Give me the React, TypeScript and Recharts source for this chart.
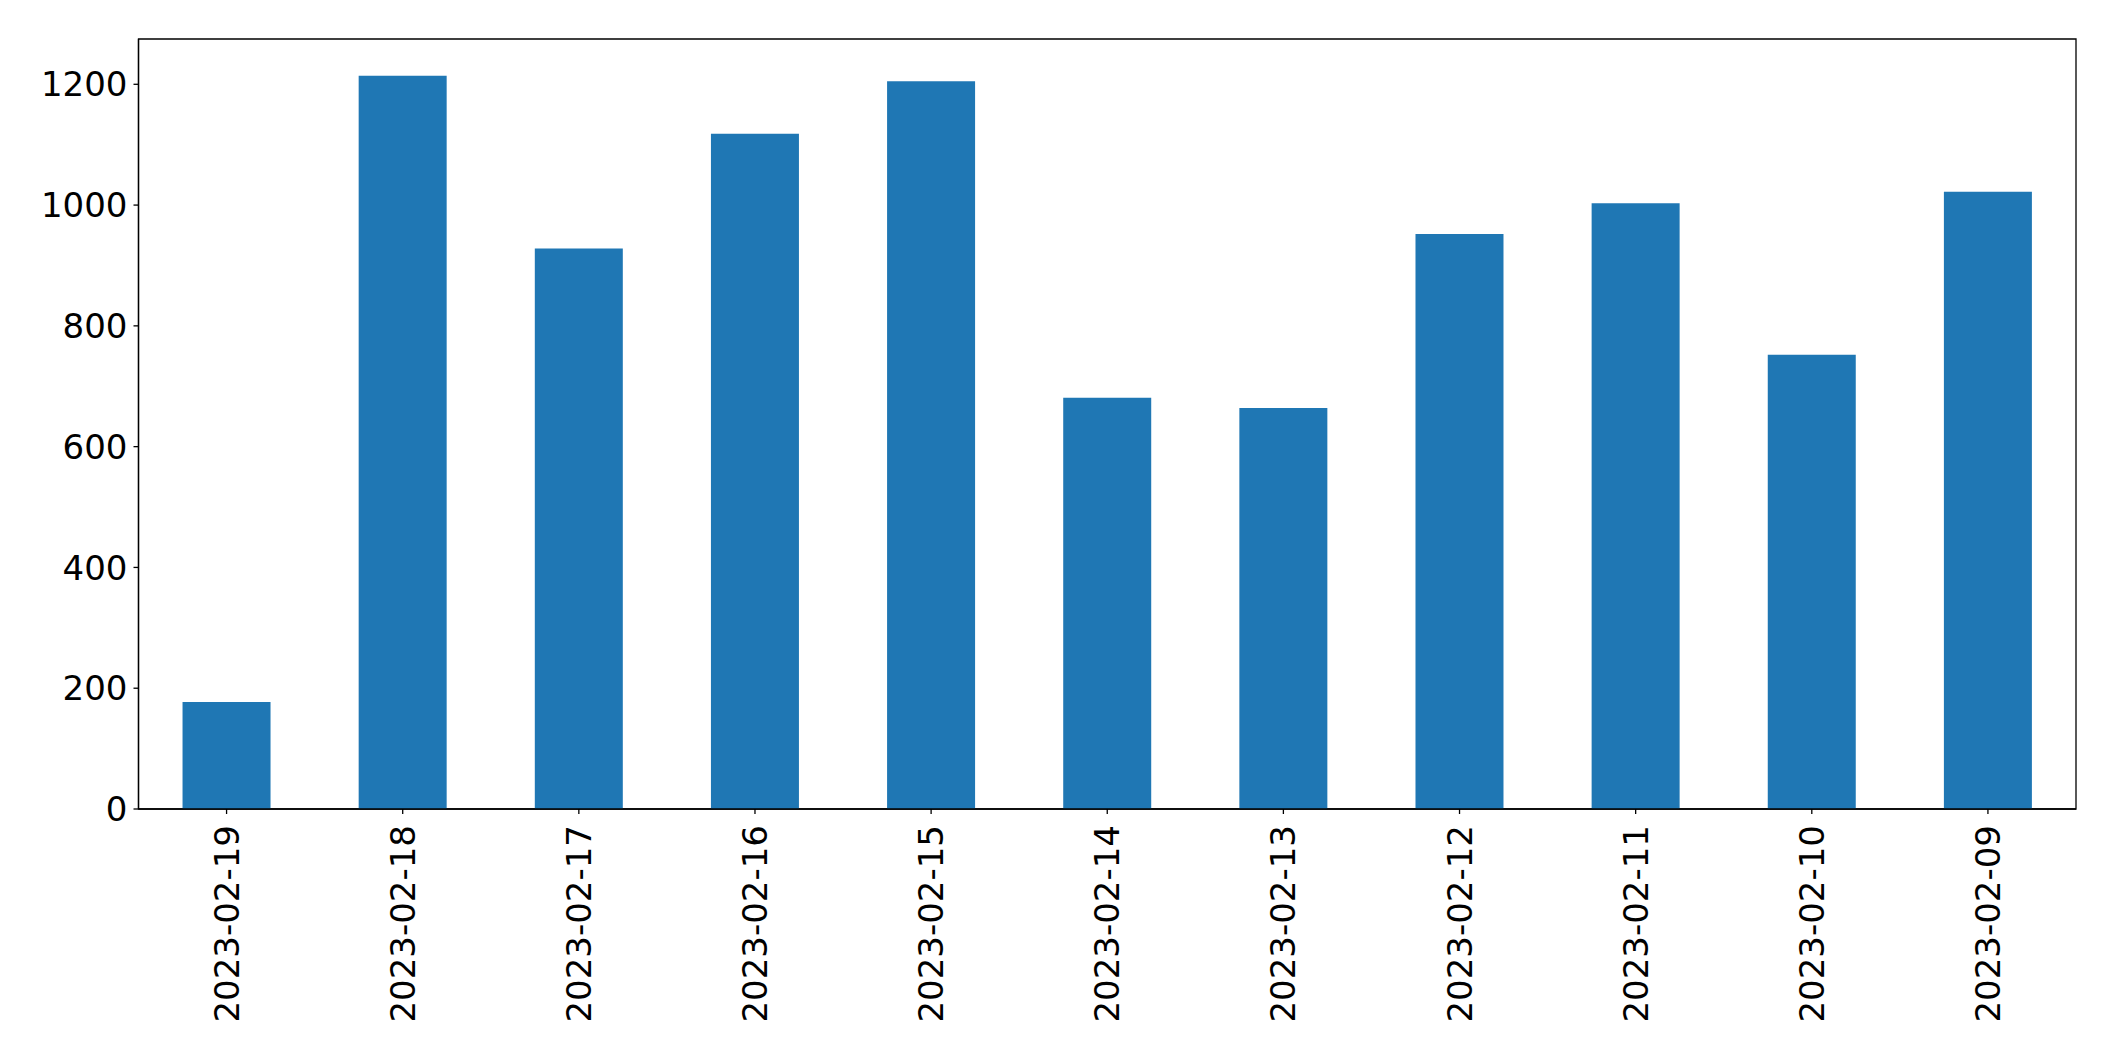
import React from 'react';
import { BarChart, Bar, XAxis, YAxis, ReferenceArea } from 'recharts';

const dates = [
  '2023-02-19', '2023-02-18', '2023-02-17', '2023-02-16', '2023-02-15', '2023-02-14',
  '2023-02-13', '2023-02-12', '2023-02-11', '2023-02-10', '2023-02-09',
];
const counts = [177, 1214, 928, 1118, 1205, 681, 664, 952, 1003, 752, 1022];
const yTicks = [0, 200, 400, 600, 800, 1000, 1200];
const yMax = 1275;

const FONT = '"DejaVu Sans", sans-serif';

const DateTick = (props: any) => {
  const { x, y, payload } = props;
  return (
    <text
      transform={`translate(${x},${y + 11}) rotate(-90)`}
      textAnchor="end"
      dominantBaseline="central"
      fontSize={34}
      fontFamily={FONT}
      fill="#000"
    >
      {payload.value}
    </text>
  );
};

const App: React.FC = () => {
  const data = dates.map((d, i) => ({ date: d, count: counts[i] }));

  return (
    <div style={{ position: 'absolute', left: 0, top: 0, background: '#fff' }}>
      <BarChart
        width={2115}
        height={1061}
        data={data}
        margin={{ top: 39, right: 39, left: 0, bottom: 0 }}
        barCategoryGap="25%"
      >
        <XAxis
          dataKey="date"
          height={252}
          interval={0}
          tick={<DateTick />}
          tickSize={5}
          tickMargin={0}
          stroke="#000"
          axisLine={{ stroke: '#000', strokeWidth: 1.3 }}
          tickLine={{ stroke: '#000', strokeWidth: 1.3 }}
        />
        <YAxis
          width={138.5}
          domain={[0, yMax]}
          ticks={yTicks}
          interval={0}
          tickSize={5}
          tickMargin={6}
          tick={{ fontSize: 34, fontFamily: FONT, fill: '#000' }}
          axisLine={{ stroke: '#000', strokeWidth: 1.3 }}
          tickLine={{ stroke: '#000', strokeWidth: 1.3 }}
        />
        <Bar dataKey="count" fill="#1f77b4" isAnimationActive={false} />
        {/* frame around the plot, like matplotlib's spines */}
        <ReferenceArea y1={0} y2={yMax} fill="none" stroke="#000" strokeWidth={1.3} />
      </BarChart>
    </div>
  );
};

export default App;
